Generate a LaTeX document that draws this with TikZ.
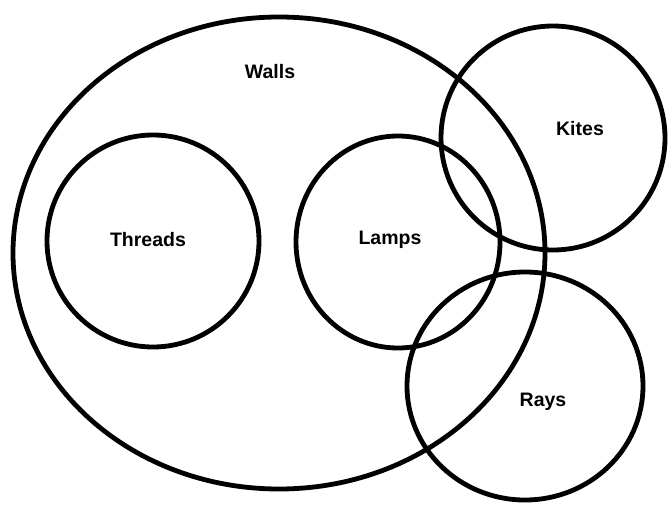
\documentclass[tikz,border=0pt]{standalone}
\usepackage{fontspec}
\setmainfont{Liberation Sans}
\usepackage{tikz}
\usetikzlibrary{shapes.geometric}
\tikzset{
  setring/.style={draw=black, line width=4.8pt, inner sep=0pt,
                  minimum width=#1, minimum height=#1},
  setlbl/.style={font=\bfseries\fontsize{19.5}{22}\selectfont, inner sep=0pt},
}
\begin{document}
\begin{tikzpicture}[x=1pt, y=-1pt]
  \useasboundingbox (0,0) rectangle (671,506);
  \node[setring, ellipse, minimum width=532pt, minimum height=472pt] (walls) at (279,253) {};
  \node[setring=212pt, circle] (threads) at (153,241) {};
  \node[setring=204pt, ellipse, minimum height=212pt] (lamps) at (398,242) {};
  \node[setring=224pt, circle] (kites) at (553,138) {};
  \node[setring=236pt, ellipse, minimum height=228pt] (rays) at (525,386) {};
  % labels
  \node[setlbl] (wallslbl) at (270,72) {Walls};
  \node[setlbl] (threadslbl) at (148,240) {Threads};
  \node[setlbl] (lampslbl) at (390,240) {Lamps};
  \node[setlbl] (kiteslbl) at (580,129) {Kites};
  \node[setlbl] (rayslbl) at (543,402) {Rays};
\end{tikzpicture}
\end{document}
